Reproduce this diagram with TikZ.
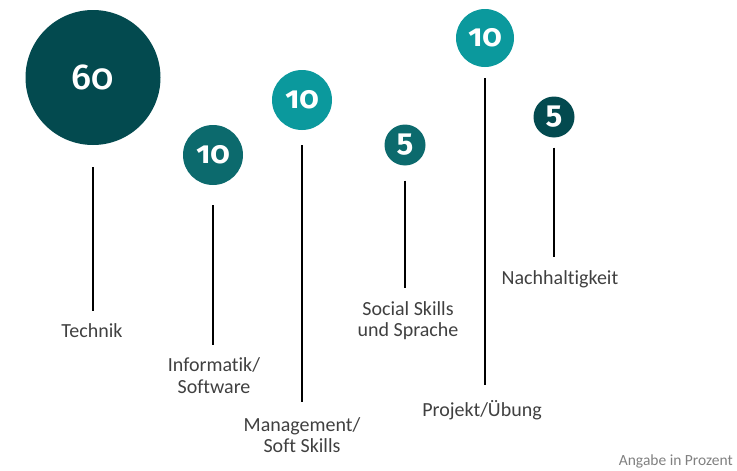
\documentclass[tikz,border=0pt]{standalone}
\usepackage{fontspec}
\setmainfont{Carlito}[Ligatures=NoCommon]
\newfontfamily\numfont{Fira Sans}[Numbers=OldStyle]
\newfontfamily\bignumfont{Fira Sans Medium}[Numbers=OldStyle]
\definecolor{tealdark}{HTML}{034A4F}
\definecolor{tealmid}{HTML}{0C6A6D}
\definecolor{teallight}{HTML}{0B999D}
\definecolor{labelgray}{HTML}{404040}
\begin{document}
\begin{tikzpicture}[x=1pt, y=-1pt,
    share/.style = {circle, draw=none, inner sep=0pt, text=white},
    smallnum/.style = {font=\numfont\bfseries\fontsize{31}{31}\selectfont},
    lbl/.style = {align=center, inner sep=0pt, text=labelgray, font=\fontsize{20}{21.5}\selectfont},
    stem/.style = {line width=2pt, black}]
    \useasboundingbox (0,0) rectangle (737,471);
    % circles
    \node[share, fill=tealdark, minimum size=135pt, font=\bignumfont\fontsize{36}{36}\selectfont] (tech) at (93,77.5) {60};
    \node[share, fill=tealmid, minimum size=60pt, smallnum] (info) at (213,155) {10};
    \node[share, fill=teallight, minimum size=60pt, smallnum] (mgmt) at (302,100) {10};
    \node[share, fill=tealmid, minimum size=41pt, smallnum] (soc) at (405,145) {5};
    \node[share, fill=teallight, minimum size=58pt, smallnum] (proj) at (485,38) {10};
    \node[share, fill=tealdark, minimum size=41pt, smallnum] (nach) at (554,117) {5};
    % labels
    \node[lbl] (techlbl) at (92,331) {Technik};
    \node[lbl] (infolbl) at (214,375.5) {Informatik/\\Software};
    \node[lbl] (mgmtlbl) at (302,435) {Management/\\Soft Skills};
    \node[lbl] (soclbl) at (408,320.5) {Social Skills\\und Sprache};
    \node[lbl] (projlbl) at (482,410) {Projekt/Übung};
    \node[lbl] (nachlbl) at (560,279) {Nachhaltigkeit};
    \node[anchor=east, inner sep=0pt, text=gray, font=\fontsize{15.5}{15.5}\selectfont] (note) at (733,461) {Angabe in Prozent};
    % stems
    \draw[stem, shorten <=22pt, shorten >=13pt] (tech.south) -- (tech.south |- techlbl.north);
    \draw[stem, shorten <=20pt, shorten >=13pt] (info.south) -- (info.south |- infolbl.north);
    \draw[stem, shorten <=15pt, shorten >=15pt] (mgmt.south) -- (mgmt.south |- mgmtlbl.north);
    \draw[stem, shorten <=15pt, shorten >=13pt] (soc.south) -- (soc.south |- soclbl.north);
    \draw[stem, shorten <=11pt, shorten >=15pt] (proj.south) -- (proj.south |- projlbl.north);
    \draw[stem, shorten <=10pt, shorten >=13pt] (nach.south) -- (nach.south |- nachlbl.north);
\end{tikzpicture}
\end{document}
